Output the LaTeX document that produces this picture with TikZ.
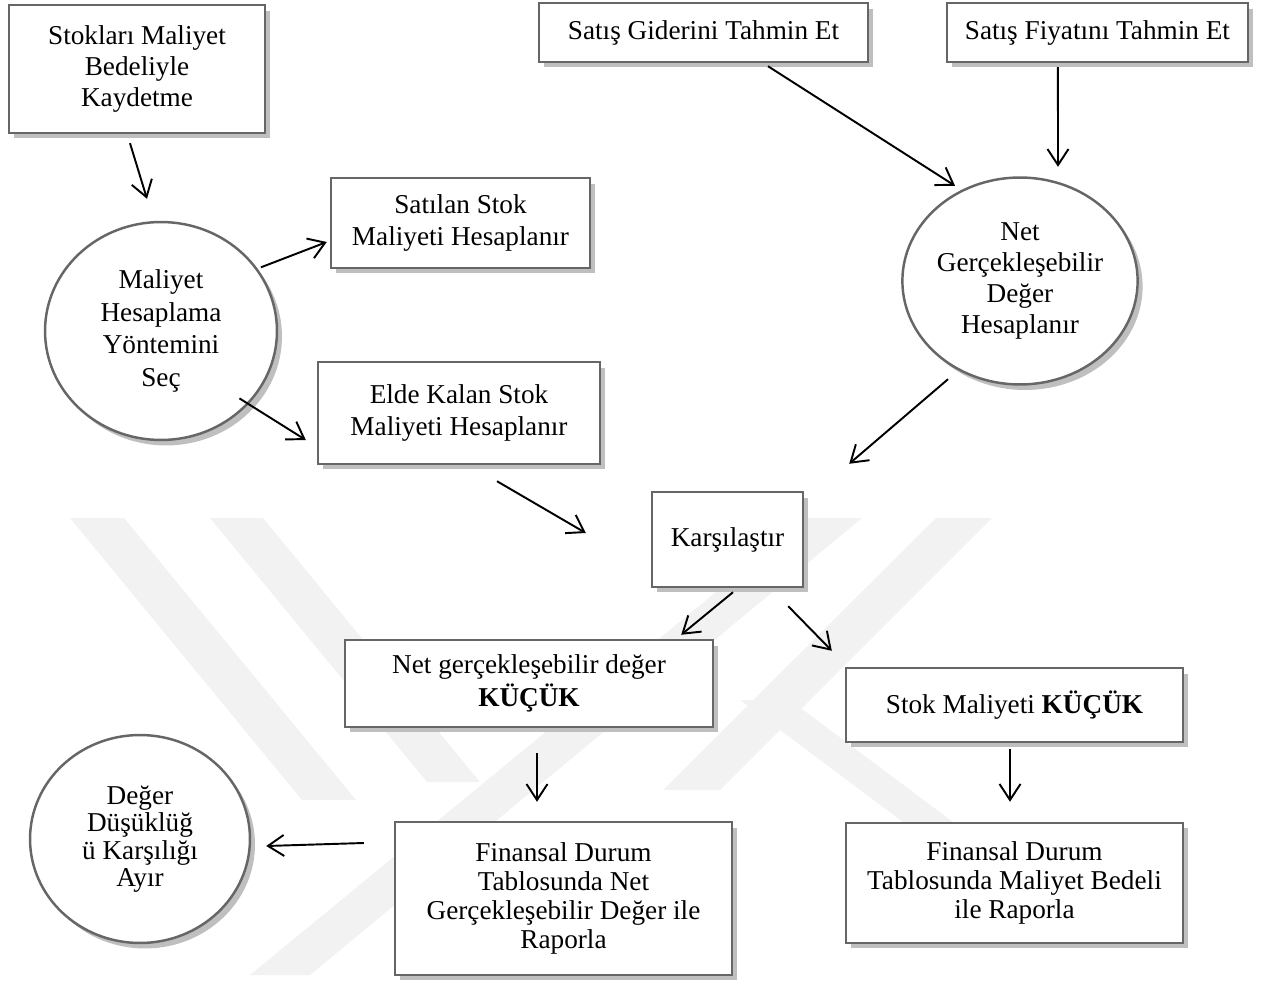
\documentclass[tikz,border=0pt]{standalone}
\usepackage{fontspec}
\setmainfont{Liberation Serif}
\usetikzlibrary{shapes.geometric,arrows.meta,shadows}
\tikzstyle{line} = [draw, line width=1.1pt, -{Straight Barb[length=0.32cm,width=0.42cm]}]
\tikzstyle{process} = [rectangle, draw=black!60, line width=1.4pt, fill=white, drop shadow={shadow xshift=0.1cm, shadow yshift=-0.11cm, fill=black!25, opacity=1}, align=center, font=\fontsize{15.5}{17.8}\selectfont]
\tikzstyle{phase} = [ellipse, inner sep=0pt, draw=black!60, line width=1.4pt, fill=white, drop shadow={shadow xshift=0.1cm, shadow yshift=-0.11cm, fill=black!25, opacity=1}, align=center, font=\fontsize{15.5}{17.8}\selectfont]
\tikzstyle{logo} = [fill=black!5]

\begin{document}
\begin{tikzpicture}[x=0.02cm, y=-0.02cm]
				\useasboundingbox (0,0) rectangle (1282,983);
				% Watermark
				\fill [logo] (70,518) -- (124,518) -- (356,800) -- (302,800) -- cycle;
				\fill [logo] (210,518) -- (263,518) -- (480,782) -- (427,782) -- cycle;
				\fill [logo] (250,975) -- (310,975) -- (862,518) -- (806,518) -- cycle;
				\fill [logo] (936,518) -- (992,518) -- (720,790) -- (663,790) -- cycle;
				\fill [logo] (740,700) -- (790,700) -- (985,846) -- (935,846) -- cycle;
				% Place nodes
				\node [process, minimum width=5.12cm, minimum height=2.56cm] (stok) at (137,69) {Stokları Maliyet \\ Bedeliyle \\ Kaydetme};
				\node [process, minimum width=6.58cm, minimum height=1.18cm] (gider) at (703.5,32.5) {Satış Giderini Tahmin Et};
				\node [process, minimum width=6.02cm, minimum height=1.18cm, right of=gider, node distance=7.88cm] (fiyat) {Satış Fiyatını Tahmin Et};
				\node [process, minimum width=5.18cm, minimum height=1.8cm, font=\fontsize{15.5}{18.4}\selectfont] (satilan) at (460.5,223) {Satılan Stok \\ Maliyeti Hesaplanır};
				\node [phase, minimum width=4.64cm, minimum height=4.36cm, font=\fontsize{15.5}{18.6}\selectfont] (secim) at (161,331) {Maliyet \\ Hesaplama \\ Yöntemini \\ Seç};
				\node [phase, minimum width=4.68cm, minimum height=4.14cm] (ngd) at (1020,281) {Net \\ Gerçekleşebilir \\ Değer \\ Hesaplanır};
				\node [process, minimum width=5.64cm, minimum height=2.04cm] (elde) at (459,413) {Elde Kalan Stok \\ Maliyeti Hesaplanır};
				\node [process, minimum width=3.02cm, minimum height=1.9cm] (kars) at (727.5,539.5) {Karşılaştır};
				\node [process, minimum width=7.36cm, minimum height=1.74cm, font=\fontsize{15.5}{18.4}\selectfont] (nk) at (529,683.5) {Net gerçekleşebilir değer \\ \textbf{KÜÇÜK}};
				\node [process, minimum width=6.74cm, minimum height=1.48cm] (sk) at (1014.5,705) {Stok Maliyeti \textbf{KÜÇÜK}};
				\node [process, minimum width=6.74cm, minimum height=3.06cm, font=\fontsize{15.5}{16.4}\selectfont] (fn) at (563.5,898.5) {Finansal Durum \\ Tablosunda Net \\ Gerçekleşebilir Değer ile \\ Raporla};
				\node [process, minimum width=6.74cm, minimum height=2.4cm, font=\fontsize{15.5}{16.7}\selectfont, below of=sk, node distance=3.56cm] (fm) {Finansal Durum \\ Tablosunda Maliyet Bedeli \\ ile Raporla};
				\node [phase, minimum width=4.4cm, minimum height=4.16cm, font=\fontsize{15.5}{15.6}\selectfont] (deger) at (140,839) {Değer \\ Düşüklüğ \\ ü Karşılığı \\ Ayır};
				% Draw edges
				\path [line] ([shift={(-7,9)}]stok.south) -- ([shift={(-14,-22)}]secim.north);
				\path [line] ([shift={(0,-6)}]secim.30) -- ([shift={(-3,19)}]satilan.west);
				\path [line] ([shift={(-9,-6)}]secim.-40) -- ([shift={(-11,27)}]elde.west);
				\path [line] ([shift={(64.5,3)}]gider.south) -- ([shift={(-65,9.5)}]ngd.north);
				\path [line] ([shift={(-39.5,4)}]fiyat.south) -- ([shift={(38,-9.5)}]ngd.north);
				\path [line] ([shift={(-72,-6.5)}]ngd.south) -- ([shift={(45,-27)}]kars.north east);
				\path [line] ([shift={(38,16)}]elde.south) -- ([shift={(-65,-6.5)}]kars.west);
				\path [line] ([shift={(5.5,4)}]kars.south) -- ([shift={(-33,-4)}]nk.north east);
				\path [line] ([shift={(-16,18)}]kars.south east) -- ([shift={(-13,-16)}]sk.north west);
				\path [line] ([shift={(8,25)}]nk.south) -- ([shift={(-26.5,-19)}]fn.north);
				\path [line] ([shift={(-4.5,6)}]sk.south) -- ([shift={(-4.5,-20)}]fm.north);
				\path [line] ([shift={(-30,-55.5)}]fn.west) -- ([shift={(15,7)}]deger.east);
\end{tikzpicture}
\end{document}
